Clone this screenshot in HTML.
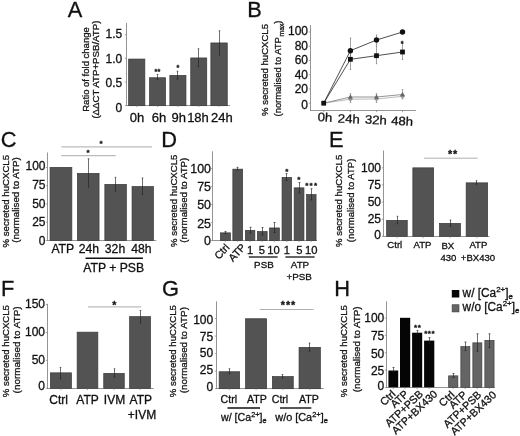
<!DOCTYPE html>
<html><head><meta charset="utf-8"><title>Figure</title>
<style>
html,body{margin:0;padding:0;background:#fff;}
svg{display:block;font-family:"Liberation Sans",sans-serif;filter:blur(0.28px);}
text{stroke:#111;stroke-width:0.3px;}
</style></head><body>
<svg width="520" height="436" viewBox="0 0 520 436">
<rect width="520" height="436" fill="#ffffff"/>
<text x="67.7" y="16.5" font-size="21.8" fill="#111">A</text>
<text x="247.2" y="16.5" font-size="21.8" fill="#111">B</text>
<text x="0.7" y="146.6" font-size="21.8" fill="#111">C</text>
<text x="161.2" y="146.7" font-size="21.8" fill="#111">D</text>
<text x="329" y="146.8" font-size="21.8" fill="#111">E</text>
<text x="0.95" y="295.8" font-size="21.8" fill="#111">F</text>
<text x="162" y="296.2" font-size="21.8" fill="#111">G</text>
<text x="334.3" y="296" font-size="21.8" fill="#111">H</text>
<line x1="126.5" y1="22.8" x2="126.5" y2="105.9" stroke="#828282" stroke-width="0.85"/>
<line x1="126.1" y1="105.5" x2="230" y2="105.5" stroke="#828282" stroke-width="0.85"/>
<line x1="124.8" y1="34.7" x2="126.5" y2="34.7" stroke="#828282" stroke-width="0.7"/>
<text x="122.3" y="38.4" font-size="12" text-anchor="end" fill="#111">1.5</text>
<line x1="124.8" y1="58.4" x2="126.5" y2="58.4" stroke="#828282" stroke-width="0.7"/>
<text x="122.3" y="63.3" font-size="12" text-anchor="end" fill="#111">1.0</text>
<line x1="124.8" y1="82" x2="126.5" y2="82" stroke="#828282" stroke-width="0.7"/>
<text x="122.3" y="86.7" font-size="12" text-anchor="end" fill="#111">0.5</text>
<line x1="124.8" y1="105.6" x2="126.5" y2="105.6" stroke="#828282" stroke-width="0.7"/>
<text x="122.3" y="112.0" font-size="12" text-anchor="end" fill="#111">0</text>
<rect x="128.65" y="59.05" width="16.2" height="46.65" fill="#535353" stroke="#383838" stroke-width="0.7"/>
<rect x="149.55" y="77.75" width="16.0" height="27.95" fill="#535353" stroke="#383838" stroke-width="0.7"/>
<rect x="169.85" y="75.35" width="16.1" height="30.35" fill="#535353" stroke="#383838" stroke-width="0.7"/>
<rect x="190.75" y="57.95" width="16.0" height="47.75" fill="#535353" stroke="#383838" stroke-width="0.7"/>
<rect x="210.85" y="42.95" width="16.4" height="62.75" fill="#535353" stroke="#383838" stroke-width="0.7"/>
<line x1="136.8" y1="105.5" x2="136.8" y2="107.1" stroke="#828282" stroke-width="0.7"/>
<line x1="157.6" y1="105.5" x2="157.6" y2="107.1" stroke="#828282" stroke-width="0.7"/>
<line x1="177.9" y1="105.5" x2="177.9" y2="107.1" stroke="#828282" stroke-width="0.7"/>
<line x1="198.8" y1="105.5" x2="198.8" y2="107.1" stroke="#828282" stroke-width="0.7"/>
<line x1="219.1" y1="105.5" x2="219.1" y2="107.1" stroke="#828282" stroke-width="0.7"/>
<line x1="157.5" y1="74.5" x2="157.5" y2="79.6" stroke="#202020" stroke-width="0.65"/>
<line x1="156.7" y1="74.5" x2="158.3" y2="74.5" stroke="#202020" stroke-width="0.65"/>
<line x1="156.7" y1="79.6" x2="158.3" y2="79.6" stroke="#202020" stroke-width="0.65"/>
<line x1="177.5" y1="71.2" x2="177.5" y2="79.2" stroke="#202020" stroke-width="0.65"/>
<line x1="176.7" y1="71.2" x2="178.3" y2="71.2" stroke="#202020" stroke-width="0.65"/>
<line x1="176.7" y1="79.2" x2="178.3" y2="79.2" stroke="#202020" stroke-width="0.65"/>
<line x1="198.5" y1="48.8" x2="198.5" y2="66.8" stroke="#202020" stroke-width="0.65"/>
<line x1="197.7" y1="48.8" x2="199.3" y2="48.8" stroke="#202020" stroke-width="0.65"/>
<line x1="197.7" y1="66.8" x2="199.3" y2="66.8" stroke="#202020" stroke-width="0.65"/>
<line x1="219.5" y1="30.8" x2="219.5" y2="55" stroke="#202020" stroke-width="0.65"/>
<line x1="218.7" y1="30.8" x2="220.3" y2="30.8" stroke="#202020" stroke-width="0.65"/>
<line x1="218.7" y1="55" x2="220.3" y2="55" stroke="#202020" stroke-width="0.65"/>
<text x="157.5" y="74.0" font-size="7.2" text-anchor="middle" fill="#111" font-weight="bold" stroke-width="0.1" letter-spacing="0.3">**</text>
<text x="178.0" y="69.5" font-size="7.2" text-anchor="middle" fill="#111" font-weight="bold" stroke-width="0.1">*</text>
<text x="136.9" y="122.4" font-size="13" text-anchor="middle" fill="#111">0h</text>
<text x="159.1" y="122.4" font-size="13" text-anchor="middle" fill="#111">6h</text>
<text x="178.8" y="122.4" font-size="13" text-anchor="middle" fill="#111">9h</text>
<text x="198" y="122.4" font-size="13" text-anchor="middle" fill="#111">18h</text>
<text x="221.8" y="122.4" font-size="13" text-anchor="middle" fill="#111">24h</text>
<text x="88.6" y="69.5" font-size="9.7" text-anchor="middle" textLength="84.5" lengthAdjust="spacingAndGlyphs" transform="rotate(-90 88.6 69.5)" fill="#222">Ratio of fold change</text>
<text x="99.1" y="69.6" font-size="9.7" text-anchor="middle" textLength="98" lengthAdjust="spacingAndGlyphs" transform="rotate(-90 99.1 69.6)" fill="#222">(ΔΔCT ATP+PSB/ATP)</text>
<line x1="310.5" y1="25" x2="310.5" y2="110.9" stroke="#828282" stroke-width="0.85"/>
<line x1="310.1" y1="110.5" x2="416" y2="110.5" stroke="#828282" stroke-width="0.85"/>
<line x1="308.8" y1="32" x2="310.5" y2="32" stroke="#828282" stroke-width="0.7"/>
<text x="308" y="34.8" font-size="12" text-anchor="end" fill="#111">100</text>
<line x1="308.8" y1="46.25" x2="310.5" y2="46.25" stroke="#828282" stroke-width="0.7"/>
<text x="308" y="49.7" font-size="12" text-anchor="end" fill="#111">80</text>
<line x1="308.8" y1="60.5" x2="310.5" y2="60.5" stroke="#828282" stroke-width="0.7"/>
<text x="308" y="64.2" font-size="12" text-anchor="end" fill="#111">60</text>
<line x1="308.8" y1="74.75" x2="310.5" y2="74.75" stroke="#828282" stroke-width="0.7"/>
<text x="308" y="79.05" font-size="12" text-anchor="end" fill="#111">40</text>
<line x1="308.8" y1="89" x2="310.5" y2="89" stroke="#828282" stroke-width="0.7"/>
<text x="308" y="93.3" font-size="12" text-anchor="end" fill="#111">20</text>
<line x1="308.8" y1="103.2" x2="310.5" y2="103.2" stroke="#828282" stroke-width="0.7"/>
<text x="308" y="108.9" font-size="12" text-anchor="end" fill="#111">0</text>
<line x1="323.7" y1="110.5" x2="323.7" y2="112.1" stroke="#828282" stroke-width="0.7"/>
<line x1="350.4" y1="110.5" x2="350.4" y2="112.1" stroke="#828282" stroke-width="0.7"/>
<line x1="376.5" y1="110.5" x2="376.5" y2="112.1" stroke="#828282" stroke-width="0.7"/>
<line x1="402.5" y1="110.5" x2="402.5" y2="112.1" stroke="#828282" stroke-width="0.7"/>
<polyline fill="none" stroke="#a8a8a8" stroke-width="0.8" points="323.7,103.2 350.4,99.2 376.5,99 402.5,96.3"/>
<polyline fill="none" stroke="#777" stroke-width="0.8" points="323.7,103.2 350.4,97 376.5,97 402.5,94.5"/>
<polyline fill="none" stroke="#222" stroke-width="0.8" points="323.7,103.2 350.4,59.3 376.5,55.7 402.5,52"/>
<polyline fill="none" stroke="#222" stroke-width="0.8" points="323.7,103.2 350.4,50.7 376.5,40 402.5,32"/>
<line x1="350.5" y1="38" x2="350.5" y2="56" stroke="#555" stroke-width="0.55"/>
<line x1="349.8" y1="38" x2="351.2" y2="38" stroke="#555" stroke-width="0.55"/>
<line x1="349.8" y1="56" x2="351.2" y2="56" stroke="#555" stroke-width="0.55"/>
<line x1="350.5" y1="52" x2="350.5" y2="69.5" stroke="#555" stroke-width="0.55"/>
<line x1="349.8" y1="52" x2="351.2" y2="52" stroke="#555" stroke-width="0.55"/>
<line x1="349.8" y1="69.5" x2="351.2" y2="69.5" stroke="#555" stroke-width="0.55"/>
<line x1="376.5" y1="35" x2="376.5" y2="45" stroke="#555" stroke-width="0.55"/>
<line x1="375.8" y1="35" x2="377.2" y2="35" stroke="#555" stroke-width="0.55"/>
<line x1="375.8" y1="45" x2="377.2" y2="45" stroke="#555" stroke-width="0.55"/>
<line x1="376.5" y1="46" x2="376.5" y2="63.7" stroke="#555" stroke-width="0.55"/>
<line x1="375.8" y1="46" x2="377.2" y2="46" stroke="#555" stroke-width="0.55"/>
<line x1="375.8" y1="63.7" x2="377.2" y2="63.7" stroke="#555" stroke-width="0.55"/>
<line x1="402.5" y1="43.5" x2="402.5" y2="59.5" stroke="#555" stroke-width="0.55"/>
<line x1="401.8" y1="43.5" x2="403.2" y2="43.5" stroke="#555" stroke-width="0.55"/>
<line x1="401.8" y1="59.5" x2="403.2" y2="59.5" stroke="#555" stroke-width="0.55"/>
<line x1="350.5" y1="93.7" x2="350.5" y2="102.5" stroke="#707070" stroke-width="0.6"/>
<line x1="349.7" y1="93.7" x2="351.3" y2="93.7" stroke="#707070" stroke-width="0.6"/>
<line x1="349.7" y1="102.5" x2="351.3" y2="102.5" stroke="#707070" stroke-width="0.6"/>
<line x1="376.5" y1="93.7" x2="376.5" y2="102.5" stroke="#707070" stroke-width="0.6"/>
<line x1="375.7" y1="93.7" x2="377.3" y2="93.7" stroke="#707070" stroke-width="0.6"/>
<line x1="375.7" y1="102.5" x2="377.3" y2="102.5" stroke="#707070" stroke-width="0.6"/>
<line x1="402.5" y1="89.5" x2="402.5" y2="99" stroke="#707070" stroke-width="0.6"/>
<line x1="401.7" y1="89.5" x2="403.3" y2="89.5" stroke="#707070" stroke-width="0.6"/>
<line x1="401.7" y1="99" x2="403.3" y2="99" stroke="#707070" stroke-width="0.6"/>
<path d="M350.4 96.60000000000001L352.79999999999995 99.2L350.4 101.8L348.0 99.2Z" fill="#9a9a9a"/>
<path d="M376.5 96.4L378.9 99L376.5 101.6L374.1 99Z" fill="#9a9a9a"/>
<path d="M402.5 93.7L404.9 96.3L402.5 98.89999999999999L400.1 96.3Z" fill="#9a9a9a"/>
<path d="M350.4 94.2L352.9 98.8L347.9 98.8Z" fill="#666"/>
<path d="M376.5 94.2L379.0 98.8L374.0 98.8Z" fill="#666"/>
<path d="M402.5 91.7L405.0 96.3L400.0 96.3Z" fill="#666"/>
<rect x="321.3" y="100.8" width="4.8" height="4.8" fill="#111"/>
<rect x="348.0" y="56.9" width="4.8" height="4.8" fill="#111"/>
<rect x="374.1" y="53.300000000000004" width="4.8" height="4.8" fill="#111"/>
<rect x="400.1" y="49.6" width="4.8" height="4.8" fill="#111"/>
<circle cx="350.4" cy="50.7" r="2.7" fill="#111"/>
<circle cx="376.5" cy="40" r="2.7" fill="#111"/>
<circle cx="402.5" cy="32" r="2.7" fill="#111"/>
<text x="402.1" y="45.9" font-size="7.2" text-anchor="middle" fill="#111" font-weight="bold" stroke-width="0.1">*</text>
<text x="324.7" y="121.5" font-size="12.2" text-anchor="middle" textLength="14.6" lengthAdjust="spacingAndGlyphs" transform="rotate(3 324.7 121.5)" fill="#111">0h</text>
<text x="348.6" y="123" font-size="12.2" text-anchor="middle" textLength="22" lengthAdjust="spacingAndGlyphs" transform="rotate(3 348.6 123)" fill="#111">24h</text>
<text x="375.7" y="124.1" font-size="12.2" text-anchor="middle" textLength="22" lengthAdjust="spacingAndGlyphs" transform="rotate(3 375.7 124.1)" fill="#111">32h</text>
<text x="401.9" y="125.3" font-size="12.2" text-anchor="middle" textLength="22" lengthAdjust="spacingAndGlyphs" transform="rotate(3 401.9 125.3)" fill="#111">48h</text>
<text x="268.2" y="70" font-size="9.7" text-anchor="middle" textLength="92" lengthAdjust="spacingAndGlyphs" transform="rotate(-90 268.2 70)" fill="#222">% secreted huCXCL5</text>
<text x="280.5" y="68.5" font-size="9.7" text-anchor="middle" textLength="96" lengthAdjust="spacingAndGlyphs" transform="rotate(-90 280.5 68.5)" fill="#222">(normalised to ATP<tspan font-size="7" dx="0.6" dy="3.8">max</tspan><tspan dy="-3.8">)</tspan></text>
<line x1="47.5" y1="152.5" x2="47.5" y2="240.9" stroke="#828282" stroke-width="0.85"/>
<line x1="47.1" y1="240.5" x2="156.3" y2="240.5" stroke="#828282" stroke-width="0.85"/>
<line x1="45.8" y1="167.5" x2="47.5" y2="167.5" stroke="#828282" stroke-width="0.7"/>
<text x="45.5" y="170.0" font-size="12" text-anchor="end" fill="#111">100</text>
<line x1="45.8" y1="185.7" x2="47.5" y2="185.7" stroke="#828282" stroke-width="0.7"/>
<text x="45.5" y="189.2" font-size="12" text-anchor="end" fill="#111">75</text>
<line x1="45.8" y1="204" x2="47.5" y2="204" stroke="#828282" stroke-width="0.7"/>
<text x="45.5" y="207.7" font-size="12" text-anchor="end" fill="#111">50</text>
<line x1="45.8" y1="222.2" x2="47.5" y2="222.2" stroke="#828282" stroke-width="0.7"/>
<text x="45.5" y="226.2" font-size="12" text-anchor="end" fill="#111">25</text>
<line x1="45.8" y1="240.5" x2="47.5" y2="240.5" stroke="#828282" stroke-width="0.7"/>
<text x="45.5" y="244.7" font-size="12" text-anchor="end" fill="#111">0</text>
<rect x="50.05" y="167.35" width="21.8" height="73.15" fill="#535353" stroke="#383838" stroke-width="0.7"/>
<rect x="77.35" y="173.35" width="21.7" height="67.15" fill="#535353" stroke="#383838" stroke-width="0.7"/>
<rect x="104.85" y="184.35" width="21.5" height="56.15" fill="#535353" stroke="#383838" stroke-width="0.7"/>
<rect x="132.05" y="186.55" width="21.4" height="53.95" fill="#535353" stroke="#383838" stroke-width="0.7"/>
<line x1="61.0" y1="240.5" x2="61.0" y2="242.1" stroke="#828282" stroke-width="0.7"/>
<line x1="88.2" y1="240.5" x2="88.2" y2="242.1" stroke="#828282" stroke-width="0.7"/>
<line x1="115.6" y1="240.5" x2="115.6" y2="242.1" stroke="#828282" stroke-width="0.7"/>
<line x1="142.8" y1="240.5" x2="142.8" y2="242.1" stroke="#828282" stroke-width="0.7"/>
<line x1="88.5" y1="158.8" x2="88.5" y2="187" stroke="#202020" stroke-width="0.65"/>
<line x1="87.7" y1="158.8" x2="89.3" y2="158.8" stroke="#202020" stroke-width="0.65"/>
<line x1="87.7" y1="187" x2="89.3" y2="187" stroke="#202020" stroke-width="0.65"/>
<line x1="115.5" y1="177.3" x2="115.5" y2="191" stroke="#202020" stroke-width="0.65"/>
<line x1="114.7" y1="177.3" x2="116.3" y2="177.3" stroke="#202020" stroke-width="0.65"/>
<line x1="114.7" y1="191" x2="116.3" y2="191" stroke="#202020" stroke-width="0.65"/>
<line x1="142.5" y1="178" x2="142.5" y2="194.5" stroke="#202020" stroke-width="0.65"/>
<line x1="141.7" y1="178" x2="143.3" y2="178" stroke="#202020" stroke-width="0.65"/>
<line x1="141.7" y1="194.5" x2="143.3" y2="194.5" stroke="#202020" stroke-width="0.65"/>
<line x1="61.3" y1="146.9" x2="152" y2="146.9" stroke="#bcbcbc" stroke-width="1.3"/>
<line x1="61.3" y1="155.6" x2="115.8" y2="155.6" stroke="#bcbcbc" stroke-width="1.3"/>
<text x="101.1" y="146.1" font-size="8" text-anchor="middle" fill="#111" font-weight="bold" stroke-width="0.1">*</text>
<text x="88.0" y="155.2" font-size="8" text-anchor="middle" fill="#111" font-weight="bold" stroke-width="0.1">*</text>
<text x="62.8" y="253.3" font-size="12.2" text-anchor="middle" fill="#111">ATP</text>
<text x="88.8" y="253.3" font-size="12.2" text-anchor="middle" fill="#111">24h</text>
<text x="115" y="253.3" font-size="12.2" text-anchor="middle" fill="#111">32h</text>
<text x="141.3" y="253.3" font-size="12.2" text-anchor="middle" fill="#111">48h</text>
<line x1="85.5" y1="258.3" x2="143" y2="258.3" stroke="#111" stroke-width="1.4"/>
<text x="113.7" y="272" font-size="12.2" text-anchor="middle" fill="#111">ATP + PSB</text>
<text x="8.7" y="201.2" font-size="9.7" text-anchor="middle" textLength="92.5" lengthAdjust="spacingAndGlyphs" transform="rotate(-90 8.7 201.2)" fill="#222">% secreted huCXCL5</text>
<text x="18.8" y="200" font-size="9.7" text-anchor="middle" textLength="85.5" lengthAdjust="spacingAndGlyphs" transform="rotate(-90 18.8 200)" fill="#222">(normalised to ATP)</text>
<line x1="212.5" y1="151.3" x2="212.5" y2="240.9" stroke="#828282" stroke-width="0.85"/>
<line x1="212.1" y1="240.5" x2="317" y2="240.5" stroke="#828282" stroke-width="0.85"/>
<line x1="210.8" y1="168.6" x2="212.5" y2="168.6" stroke="#828282" stroke-width="0.7"/>
<text x="211" y="173.04" font-size="12.4" text-anchor="end" fill="#111">100</text>
<line x1="210.8" y1="186.6" x2="212.5" y2="186.6" stroke="#828282" stroke-width="0.7"/>
<text x="211" y="191.04" font-size="12.4" text-anchor="end" fill="#111">75</text>
<line x1="210.8" y1="204.5" x2="212.5" y2="204.5" stroke="#828282" stroke-width="0.7"/>
<text x="211" y="208.94" font-size="12.4" text-anchor="end" fill="#111">50</text>
<line x1="210.8" y1="222.5" x2="212.5" y2="222.5" stroke="#828282" stroke-width="0.7"/>
<text x="211" y="227.54" font-size="12.4" text-anchor="end" fill="#111">25</text>
<line x1="210.8" y1="240.5" x2="212.5" y2="240.5" stroke="#828282" stroke-width="0.7"/>
<text x="211" y="244.94" font-size="12.4" text-anchor="end" fill="#111">0</text>
<rect x="220.35" y="232.85" width="10.0" height="7.65" fill="#535353" stroke="#383838" stroke-width="0.7"/>
<rect x="232.85" y="169.15" width="9.8" height="71.35" fill="#535353" stroke="#383838" stroke-width="0.7"/>
<rect x="245.35" y="230.35" width="9.5" height="10.15" fill="#535353" stroke="#383838" stroke-width="0.7"/>
<rect x="257.35" y="231.55" width="9.8" height="8.95" fill="#535353" stroke="#383838" stroke-width="0.7"/>
<rect x="269.55" y="227.95" width="9.8" height="12.55" fill="#535353" stroke="#383838" stroke-width="0.7"/>
<rect x="282.05" y="177.35" width="9.6" height="63.15" fill="#535353" stroke="#383838" stroke-width="0.7"/>
<rect x="294.15" y="187.85" width="9.8" height="52.65" fill="#535353" stroke="#383838" stroke-width="0.7"/>
<rect x="306.55" y="194.55" width="9.5" height="45.95" fill="#535353" stroke="#383838" stroke-width="0.7"/>
<line x1="225.3" y1="240.5" x2="225.3" y2="242.1" stroke="#828282" stroke-width="0.7"/>
<line x1="237.8" y1="240.5" x2="237.8" y2="242.1" stroke="#828282" stroke-width="0.7"/>
<line x1="250.1" y1="240.5" x2="250.1" y2="242.1" stroke="#828282" stroke-width="0.7"/>
<line x1="262.2" y1="240.5" x2="262.2" y2="242.1" stroke="#828282" stroke-width="0.7"/>
<line x1="274.4" y1="240.5" x2="274.4" y2="242.1" stroke="#828282" stroke-width="0.7"/>
<line x1="286.9" y1="240.5" x2="286.9" y2="242.1" stroke="#828282" stroke-width="0.7"/>
<line x1="299.1" y1="240.5" x2="299.1" y2="242.1" stroke="#828282" stroke-width="0.7"/>
<line x1="311.3" y1="240.5" x2="311.3" y2="242.1" stroke="#828282" stroke-width="0.7"/>
<line x1="225.5" y1="231.5" x2="225.5" y2="233.5" stroke="#202020" stroke-width="0.65"/>
<line x1="224.5" y1="231.5" x2="226.5" y2="231.5" stroke="#202020" stroke-width="0.65"/>
<line x1="224.5" y1="233.5" x2="226.5" y2="233.5" stroke="#202020" stroke-width="0.65"/>
<line x1="237.5" y1="167.3" x2="237.5" y2="170.2" stroke="#202020" stroke-width="0.65"/>
<line x1="236.5" y1="167.3" x2="238.5" y2="167.3" stroke="#202020" stroke-width="0.65"/>
<line x1="236.5" y1="170.2" x2="238.5" y2="170.2" stroke="#202020" stroke-width="0.65"/>
<line x1="250.5" y1="227.3" x2="250.5" y2="233" stroke="#202020" stroke-width="0.65"/>
<line x1="249.5" y1="227.3" x2="251.5" y2="227.3" stroke="#202020" stroke-width="0.65"/>
<line x1="249.5" y1="233" x2="251.5" y2="233" stroke="#202020" stroke-width="0.65"/>
<line x1="262.5" y1="227.5" x2="262.5" y2="235" stroke="#202020" stroke-width="0.65"/>
<line x1="261.5" y1="227.5" x2="263.5" y2="227.5" stroke="#202020" stroke-width="0.65"/>
<line x1="261.5" y1="235" x2="263.5" y2="235" stroke="#202020" stroke-width="0.65"/>
<line x1="274.5" y1="222.5" x2="274.5" y2="232.5" stroke="#202020" stroke-width="0.65"/>
<line x1="273.5" y1="222.5" x2="275.5" y2="222.5" stroke="#202020" stroke-width="0.65"/>
<line x1="273.5" y1="232.5" x2="275.5" y2="232.5" stroke="#202020" stroke-width="0.65"/>
<line x1="286.5" y1="173.6" x2="286.5" y2="180.5" stroke="#202020" stroke-width="0.65"/>
<line x1="285.5" y1="173.6" x2="287.5" y2="173.6" stroke="#202020" stroke-width="0.65"/>
<line x1="285.5" y1="180.5" x2="287.5" y2="180.5" stroke="#202020" stroke-width="0.65"/>
<line x1="299.5" y1="182.5" x2="299.5" y2="193" stroke="#202020" stroke-width="0.65"/>
<line x1="298.5" y1="182.5" x2="300.5" y2="182.5" stroke="#202020" stroke-width="0.65"/>
<line x1="298.5" y1="193" x2="300.5" y2="193" stroke="#202020" stroke-width="0.65"/>
<line x1="311.5" y1="188.7" x2="311.5" y2="200" stroke="#202020" stroke-width="0.65"/>
<line x1="310.5" y1="188.7" x2="312.5" y2="188.7" stroke="#202020" stroke-width="0.65"/>
<line x1="310.5" y1="200" x2="312.5" y2="200" stroke="#202020" stroke-width="0.65"/>
<text x="286.7" y="173.9" font-size="8" text-anchor="middle" fill="#111" font-weight="bold" stroke-width="0.1">*</text>
<text x="298.8" y="181.6" font-size="8" text-anchor="middle" fill="#111" font-weight="bold" stroke-width="0.1">*</text>
<text x="311.72" y="188.0" font-size="8" text-anchor="middle" fill="#111" font-weight="bold" stroke-width="0.1" letter-spacing="1.24">***</text>
<text x="230.1" y="248.1" font-size="10.5" text-anchor="end" transform="rotate(-47 230.1 248.1)" fill="#111">Ctrl</text>
<text x="246.3" y="247.8" font-size="10.5" text-anchor="end" transform="rotate(-47 246.3 247.8)" fill="#111">ATP</text>
<text x="250.2" y="253.8" font-size="11.2" text-anchor="middle" fill="#111">1</text>
<text x="261.8" y="253.8" font-size="11.2" text-anchor="middle" fill="#111">5</text>
<text x="273.6" y="253.8" font-size="11.2" text-anchor="middle" fill="#111">10</text>
<text x="286.8" y="253.8" font-size="11.2" text-anchor="middle" fill="#111">1</text>
<text x="299.3" y="253.8" font-size="11.2" text-anchor="middle" fill="#111">5</text>
<text x="311.3" y="253.8" font-size="11.2" text-anchor="middle" fill="#111">10</text>
<line x1="248.8" y1="257" x2="277.6" y2="257" stroke="#111" stroke-width="1.3"/>
<line x1="285.4" y1="257" x2="314.6" y2="257" stroke="#111" stroke-width="1.3"/>
<text x="263.9" y="267.7" font-size="9.8" text-anchor="middle" fill="#111">PSB</text>
<text x="300" y="267.7" font-size="9.8" text-anchor="middle" fill="#111">ATP</text>
<text x="299.2" y="279.5" font-size="9.8" text-anchor="middle" fill="#111">+PSB</text>
<text x="176.9" y="200.8" font-size="9.7" text-anchor="middle" textLength="92.3" lengthAdjust="spacingAndGlyphs" transform="rotate(-90 176.9 200.8)" fill="#222">% secreted huCXCL5</text>
<text x="187.5" y="200.2" font-size="9.7" text-anchor="middle" textLength="85" lengthAdjust="spacingAndGlyphs" transform="rotate(-90 187.5 200.2)" fill="#222">(normalised to ATP)</text>
<line x1="383.5" y1="150.5" x2="383.5" y2="236.9" stroke="#828282" stroke-width="0.85"/>
<line x1="383.1" y1="236.5" x2="489.5" y2="236.5" stroke="#828282" stroke-width="0.85"/>
<line x1="381.8" y1="167.8" x2="383.5" y2="167.8" stroke="#828282" stroke-width="0.7"/>
<text x="381" y="171.5" font-size="12" text-anchor="end" fill="#111">100</text>
<line x1="381.8" y1="184.9" x2="383.5" y2="184.9" stroke="#828282" stroke-width="0.7"/>
<text x="381" y="189.2" font-size="12" text-anchor="end" fill="#111">75</text>
<line x1="381.8" y1="202" x2="383.5" y2="202" stroke="#828282" stroke-width="0.7"/>
<text x="381" y="206.3" font-size="12" text-anchor="end" fill="#111">50</text>
<line x1="381.8" y1="219.2" x2="383.5" y2="219.2" stroke="#828282" stroke-width="0.7"/>
<text x="381" y="223.1" font-size="12" text-anchor="end" fill="#111">25</text>
<line x1="381.8" y1="236.3" x2="383.5" y2="236.3" stroke="#828282" stroke-width="0.7"/>
<text x="381" y="239.3" font-size="12" text-anchor="end" fill="#111">0</text>
<rect x="386.65" y="220.35" width="20.6" height="15.95" fill="#535353" stroke="#383838" stroke-width="0.7"/>
<rect x="412.85" y="167.85" width="20.8" height="68.45" fill="#535353" stroke="#383838" stroke-width="0.7"/>
<rect x="439.55" y="223.35" width="20.9" height="12.95" fill="#535353" stroke="#383838" stroke-width="0.7"/>
<rect x="466.15" y="182.85" width="21.5" height="53.45" fill="#535353" stroke="#383838" stroke-width="0.7"/>
<line x1="397.0" y1="236.5" x2="397.0" y2="238.1" stroke="#828282" stroke-width="0.7"/>
<line x1="423.2" y1="236.5" x2="423.2" y2="238.1" stroke="#828282" stroke-width="0.7"/>
<line x1="450.0" y1="236.5" x2="450.0" y2="238.1" stroke="#828282" stroke-width="0.7"/>
<line x1="476.9" y1="236.5" x2="476.9" y2="238.1" stroke="#828282" stroke-width="0.7"/>
<line x1="397.5" y1="216.3" x2="397.5" y2="223.8" stroke="#202020" stroke-width="0.65"/>
<line x1="396.7" y1="216.3" x2="398.3" y2="216.3" stroke="#202020" stroke-width="0.65"/>
<line x1="396.7" y1="223.8" x2="398.3" y2="223.8" stroke="#202020" stroke-width="0.65"/>
<line x1="450.5" y1="220" x2="450.5" y2="226.3" stroke="#202020" stroke-width="0.65"/>
<line x1="449.7" y1="220" x2="451.3" y2="220" stroke="#202020" stroke-width="0.65"/>
<line x1="449.7" y1="226.3" x2="451.3" y2="226.3" stroke="#202020" stroke-width="0.65"/>
<line x1="476.5" y1="180.7" x2="476.5" y2="184.3" stroke="#202020" stroke-width="0.65"/>
<line x1="475.7" y1="180.7" x2="477.3" y2="180.7" stroke="#202020" stroke-width="0.65"/>
<line x1="475.7" y1="184.3" x2="477.3" y2="184.3" stroke="#202020" stroke-width="0.65"/>
<line x1="424" y1="158.2" x2="477.6" y2="158.2" stroke="#9c9c9c" stroke-width="0.8"/>
<text x="453.1" y="157.5" font-size="10.8" text-anchor="middle" fill="#111" font-weight="bold" stroke-width="0.1" letter-spacing="1.0">**</text>
<text x="394.8" y="248.3" font-size="9.6" text-anchor="middle" fill="#111">Ctrl</text>
<text x="422.5" y="248.3" font-size="9.6" text-anchor="middle" fill="#111">ATP</text>
<text x="447.8" y="249.3" font-size="9.6" text-anchor="middle" fill="#111">BX</text>
<text x="478.4" y="248.3" font-size="9.6" text-anchor="middle" fill="#111">ATP</text>
<text x="448.4" y="261" font-size="9.6" text-anchor="middle" fill="#111">430</text>
<text x="478" y="260.5" font-size="9.6" text-anchor="middle" fill="#111">+BX430</text>
<text x="342.5" y="200.9" font-size="9.7" text-anchor="middle" textLength="92.3" lengthAdjust="spacingAndGlyphs" transform="rotate(-90 342.5 200.9)" fill="#222">% secreted huCXCL5</text>
<text x="354" y="200.4" font-size="9.7" text-anchor="middle" textLength="83.5" lengthAdjust="spacingAndGlyphs" transform="rotate(-90 354 200.4)" fill="#222">(normalised to ATP)</text>
<line x1="47.5" y1="303.8" x2="47.5" y2="388.9" stroke="#828282" stroke-width="0.85"/>
<line x1="47.1" y1="388.5" x2="153.8" y2="388.5" stroke="#828282" stroke-width="0.85"/>
<line x1="45.8" y1="304.6" x2="47.5" y2="304.6" stroke="#828282" stroke-width="0.7"/>
<text x="45" y="308.0" font-size="12" text-anchor="end" fill="#111">150</text>
<line x1="45.8" y1="332.5" x2="47.5" y2="332.5" stroke="#828282" stroke-width="0.7"/>
<text x="45" y="335.7" font-size="12" text-anchor="end" fill="#111">100</text>
<line x1="45.8" y1="360.4" x2="47.5" y2="360.4" stroke="#828282" stroke-width="0.7"/>
<text x="45" y="364.0" font-size="12" text-anchor="end" fill="#111">50</text>
<line x1="45.8" y1="388.3" x2="47.5" y2="388.3" stroke="#828282" stroke-width="0.7"/>
<text x="45" y="390.4" font-size="12" text-anchor="end" fill="#111">0</text>
<rect x="50.35" y="372.85" width="21.1" height="15.45" fill="#535353" stroke="#383838" stroke-width="0.7"/>
<rect x="77.15" y="332.15" width="20.7" height="56.15" fill="#535353" stroke="#383838" stroke-width="0.7"/>
<rect x="103.75" y="373.35" width="20.5" height="14.95" fill="#535353" stroke="#383838" stroke-width="0.7"/>
<rect x="129.65" y="316.65" width="20.8" height="71.65" fill="#535353" stroke="#383838" stroke-width="0.7"/>
<line x1="60.9" y1="388.5" x2="60.9" y2="390.1" stroke="#828282" stroke-width="0.7"/>
<line x1="87.5" y1="388.5" x2="87.5" y2="390.1" stroke="#828282" stroke-width="0.7"/>
<line x1="114.0" y1="388.5" x2="114.0" y2="390.1" stroke="#828282" stroke-width="0.7"/>
<line x1="140.1" y1="388.5" x2="140.1" y2="390.1" stroke="#828282" stroke-width="0.7"/>
<line x1="60.5" y1="367.5" x2="60.5" y2="378.8" stroke="#202020" stroke-width="0.65"/>
<line x1="59.7" y1="367.5" x2="61.3" y2="367.5" stroke="#202020" stroke-width="0.65"/>
<line x1="59.7" y1="378.8" x2="61.3" y2="378.8" stroke="#202020" stroke-width="0.65"/>
<line x1="114.5" y1="368.8" x2="114.5" y2="377" stroke="#202020" stroke-width="0.65"/>
<line x1="113.7" y1="368.8" x2="115.3" y2="368.8" stroke="#202020" stroke-width="0.65"/>
<line x1="113.7" y1="377" x2="115.3" y2="377" stroke="#202020" stroke-width="0.65"/>
<line x1="140.5" y1="310.5" x2="140.5" y2="323" stroke="#202020" stroke-width="0.65"/>
<line x1="139.7" y1="310.5" x2="141.3" y2="310.5" stroke="#202020" stroke-width="0.65"/>
<line x1="139.7" y1="323" x2="141.3" y2="323" stroke="#202020" stroke-width="0.65"/>
<line x1="88" y1="306.8" x2="141.2" y2="306.8" stroke="#bcbcbc" stroke-width="1.3"/>
<text x="114.3" y="308.75" font-size="10.5" text-anchor="middle" fill="#111" font-weight="bold" stroke-width="0.1">*</text>
<text x="58.6" y="404.2" font-size="12" text-anchor="middle" fill="#111">Ctrl</text>
<text x="87.6" y="404.2" font-size="12" text-anchor="middle" fill="#111">ATP</text>
<text x="114.5" y="404.2" font-size="12" text-anchor="middle" fill="#111">IVM</text>
<text x="140.8" y="404.2" font-size="12" text-anchor="middle" fill="#111">ATP</text>
<text x="142" y="418.8" font-size="12" text-anchor="middle" fill="#111">+IVM</text>
<text x="8.8" y="351.2" font-size="9.7" text-anchor="middle" textLength="92.1" lengthAdjust="spacingAndGlyphs" transform="rotate(-90 8.8 351.2)" fill="#222">% secreted huCXCL5</text>
<text x="19.6" y="349.9" font-size="9.7" text-anchor="middle" textLength="87" lengthAdjust="spacingAndGlyphs" transform="rotate(-90 19.6 349.9)" fill="#222">(normalised to ATP)</text>
<line x1="216.5" y1="301.3" x2="216.5" y2="388.9" stroke="#828282" stroke-width="0.85"/>
<line x1="216.1" y1="388.5" x2="323.8" y2="388.5" stroke="#828282" stroke-width="0.85"/>
<line x1="214.8" y1="318.6" x2="216.5" y2="318.6" stroke="#828282" stroke-width="0.7"/>
<text x="213.2" y="323.5" font-size="12" text-anchor="end" fill="#111">100</text>
<line x1="214.8" y1="336.1" x2="216.5" y2="336.1" stroke="#828282" stroke-width="0.7"/>
<text x="213.2" y="340.5" font-size="12" text-anchor="end" fill="#111">75</text>
<line x1="214.8" y1="353.7" x2="216.5" y2="353.7" stroke="#828282" stroke-width="0.7"/>
<text x="213.2" y="357.3" font-size="12" text-anchor="end" fill="#111">50</text>
<line x1="214.8" y1="371.2" x2="216.5" y2="371.2" stroke="#828282" stroke-width="0.7"/>
<text x="213.2" y="374.3" font-size="12" text-anchor="end" fill="#111">25</text>
<line x1="214.8" y1="388.6" x2="216.5" y2="388.6" stroke="#828282" stroke-width="0.7"/>
<text x="213.2" y="390.9" font-size="12" text-anchor="end" fill="#111">0</text>
<rect x="219.15" y="371.75" width="20.5" height="16.95" fill="#535353" stroke="#383838" stroke-width="0.7"/>
<rect x="245.55" y="318.75" width="21.1" height="69.95" fill="#535353" stroke="#383838" stroke-width="0.7"/>
<rect x="272.35" y="376.55" width="20.9" height="12.15" fill="#535353" stroke="#383838" stroke-width="0.7"/>
<rect x="299.05" y="347.35" width="21.3" height="41.35" fill="#535353" stroke="#383838" stroke-width="0.7"/>
<line x1="229.4" y1="388.5" x2="229.4" y2="390.1" stroke="#828282" stroke-width="0.7"/>
<line x1="256.1" y1="388.5" x2="256.1" y2="390.1" stroke="#828282" stroke-width="0.7"/>
<line x1="282.8" y1="388.5" x2="282.8" y2="390.1" stroke="#828282" stroke-width="0.7"/>
<line x1="309.7" y1="388.5" x2="309.7" y2="390.1" stroke="#828282" stroke-width="0.7"/>
<line x1="229.5" y1="368.7" x2="229.5" y2="373.8" stroke="#202020" stroke-width="0.65"/>
<line x1="228.7" y1="368.7" x2="230.3" y2="368.7" stroke="#202020" stroke-width="0.65"/>
<line x1="228.7" y1="373.8" x2="230.3" y2="373.8" stroke="#202020" stroke-width="0.65"/>
<line x1="282.5" y1="374.5" x2="282.5" y2="378.2" stroke="#202020" stroke-width="0.65"/>
<line x1="281.7" y1="374.5" x2="283.3" y2="374.5" stroke="#202020" stroke-width="0.65"/>
<line x1="281.7" y1="378.2" x2="283.3" y2="378.2" stroke="#202020" stroke-width="0.65"/>
<line x1="309.5" y1="343" x2="309.5" y2="351.2" stroke="#202020" stroke-width="0.65"/>
<line x1="308.7" y1="343" x2="310.3" y2="343" stroke="#202020" stroke-width="0.65"/>
<line x1="308.7" y1="351.2" x2="310.3" y2="351.2" stroke="#202020" stroke-width="0.65"/>
<line x1="259.8" y1="309.5" x2="313.5" y2="309.5" stroke="#9c9c9c" stroke-width="0.8"/>
<text x="288.45" y="309.3" font-size="10.8" text-anchor="middle" fill="#111" font-weight="bold" stroke-width="0.1" letter-spacing="0.9">***</text>
<text x="228.8" y="403" font-size="10.6" text-anchor="middle" fill="#111">Ctrl</text>
<text x="256.8" y="403" font-size="10.6" text-anchor="middle" fill="#111">ATP</text>
<text x="280" y="403" font-size="10.6" text-anchor="middle" fill="#111">Ctrl</text>
<text x="309" y="403" font-size="10.6" text-anchor="middle" fill="#111">ATP</text>
<line x1="227.5" y1="408" x2="260" y2="408" stroke="#111" stroke-width="1.4"/>
<line x1="280" y1="408" x2="311.3" y2="408" stroke="#111" stroke-width="1.4"/>
<text x="221" y="421.3" font-size="11" textLength="45.5" lengthAdjust="spacingAndGlyphs" fill="#111">w/ [Ca<tspan font-size="7.5" dy="-4.8">2+</tspan><tspan dy="4.8">]</tspan><tspan font-size="7.5" dy="1.9">e</tspan></text>
<text x="275.3" y="421.3" font-size="11" textLength="52.5" lengthAdjust="spacingAndGlyphs" fill="#111">w/o [Ca<tspan font-size="7.5" dy="-4.8">2+</tspan><tspan dy="4.8">]</tspan><tspan font-size="7.5" dy="1.9">e</tspan></text>
<text x="176.3" y="351.2" font-size="9.7" text-anchor="middle" textLength="92.1" lengthAdjust="spacingAndGlyphs" transform="rotate(-90 176.3 351.2)" fill="#222">% secreted huCXCL5</text>
<text x="187.2" y="350.2" font-size="9.7" text-anchor="middle" textLength="86.3" lengthAdjust="spacingAndGlyphs" transform="rotate(-90 187.2 350.2)" fill="#222">(normalised to ATP)</text>
<line x1="386.5" y1="301.3" x2="386.5" y2="387.9" stroke="#828282" stroke-width="0.85"/>
<line x1="386.1" y1="387.5" x2="495" y2="387.5" stroke="#828282" stroke-width="0.85"/>
<line x1="384.8" y1="318" x2="386.5" y2="318" stroke="#828282" stroke-width="0.7"/>
<text x="384.3" y="321.9" font-size="12" text-anchor="end" fill="#111">100</text>
<line x1="384.8" y1="335.4" x2="386.5" y2="335.4" stroke="#828282" stroke-width="0.7"/>
<text x="384.3" y="339.7" font-size="12" text-anchor="end" fill="#111">75</text>
<line x1="384.8" y1="352.8" x2="386.5" y2="352.8" stroke="#828282" stroke-width="0.7"/>
<text x="384.3" y="357.7" font-size="12" text-anchor="end" fill="#111">50</text>
<line x1="384.8" y1="370.1" x2="386.5" y2="370.1" stroke="#828282" stroke-width="0.7"/>
<text x="384.3" y="375.0" font-size="12" text-anchor="end" fill="#111">25</text>
<line x1="384.8" y1="387.3" x2="386.5" y2="387.3" stroke="#828282" stroke-width="0.7"/>
<text x="384.3" y="390.3" font-size="12" text-anchor="end" fill="#111">0</text>
<rect x="388.4" y="370.5" width="9.8" height="16.8" fill="#050505"/>
<rect x="400" y="317.8" width="10.2" height="69.5" fill="#050505"/>
<rect x="412.1" y="332.7" width="10.1" height="54.6" fill="#050505"/>
<rect x="424.1" y="340.6" width="10.2" height="46.7" fill="#050505"/>
<line x1="393.3" y1="387.5" x2="393.3" y2="389.1" stroke="#828282" stroke-width="0.7"/>
<line x1="405.1" y1="387.5" x2="405.1" y2="389.1" stroke="#828282" stroke-width="0.7"/>
<line x1="417.1" y1="387.5" x2="417.1" y2="389.1" stroke="#828282" stroke-width="0.7"/>
<line x1="429.2" y1="387.5" x2="429.2" y2="389.1" stroke="#828282" stroke-width="0.7"/>
<line x1="453.1" y1="387.5" x2="453.1" y2="389.1" stroke="#828282" stroke-width="0.7"/>
<line x1="465.2" y1="387.5" x2="465.2" y2="389.1" stroke="#828282" stroke-width="0.7"/>
<line x1="477.2" y1="387.5" x2="477.2" y2="389.1" stroke="#828282" stroke-width="0.7"/>
<line x1="489.4" y1="387.5" x2="489.4" y2="389.1" stroke="#828282" stroke-width="0.7"/>
<rect x="448.65" y="375.85" width="9.2" height="11.45" fill="#646464" stroke="#3e3e3e" stroke-width="0.7"/>
<rect x="460.85" y="346.65" width="9.0" height="40.65" fill="#646464" stroke="#3e3e3e" stroke-width="0.7"/>
<rect x="472.85" y="342.85" width="9.0" height="44.45" fill="#646464" stroke="#3e3e3e" stroke-width="0.7"/>
<rect x="484.85" y="340.35" width="9.2" height="46.95" fill="#646464" stroke="#3e3e3e" stroke-width="0.7"/>
<line x1="393.5" y1="367.5" x2="393.5" y2="372" stroke="#202020" stroke-width="0.65"/>
<line x1="392.5" y1="367.5" x2="394.5" y2="367.5" stroke="#202020" stroke-width="0.65"/>
<line x1="392.5" y1="372" x2="394.5" y2="372" stroke="#202020" stroke-width="0.65"/>
<line x1="417.5" y1="330.6" x2="417.5" y2="334" stroke="#202020" stroke-width="0.65"/>
<line x1="416.5" y1="330.6" x2="418.5" y2="330.6" stroke="#202020" stroke-width="0.65"/>
<line x1="416.5" y1="334" x2="418.5" y2="334" stroke="#202020" stroke-width="0.65"/>
<line x1="429.5" y1="337.6" x2="429.5" y2="343.8" stroke="#202020" stroke-width="0.65"/>
<line x1="428.5" y1="337.6" x2="430.5" y2="337.6" stroke="#202020" stroke-width="0.65"/>
<line x1="428.5" y1="343.8" x2="430.5" y2="343.8" stroke="#202020" stroke-width="0.65"/>
<line x1="453.5" y1="373.5" x2="453.5" y2="377.5" stroke="#202020" stroke-width="0.65"/>
<line x1="452.5" y1="373.5" x2="454.5" y2="373.5" stroke="#202020" stroke-width="0.65"/>
<line x1="452.5" y1="377.5" x2="454.5" y2="377.5" stroke="#202020" stroke-width="0.65"/>
<line x1="465.5" y1="342" x2="465.5" y2="350.5" stroke="#202020" stroke-width="0.65"/>
<line x1="464.5" y1="342" x2="466.5" y2="342" stroke="#202020" stroke-width="0.65"/>
<line x1="464.5" y1="350.5" x2="466.5" y2="350.5" stroke="#202020" stroke-width="0.65"/>
<line x1="477.5" y1="333.8" x2="477.5" y2="351.3" stroke="#202020" stroke-width="0.65"/>
<line x1="476.5" y1="333.8" x2="478.5" y2="333.8" stroke="#202020" stroke-width="0.65"/>
<line x1="476.5" y1="351.3" x2="478.5" y2="351.3" stroke="#202020" stroke-width="0.65"/>
<line x1="489.5" y1="333.8" x2="489.5" y2="347.5" stroke="#202020" stroke-width="0.65"/>
<line x1="488.5" y1="333.8" x2="490.5" y2="333.8" stroke="#202020" stroke-width="0.65"/>
<line x1="488.5" y1="347.5" x2="490.5" y2="347.5" stroke="#202020" stroke-width="0.65"/>
<text x="417.7" y="330.2" font-size="8" text-anchor="middle" fill="#111" font-weight="bold" stroke-width="0.1" letter-spacing="0.5">**</text>
<text x="429.65" y="336.3" font-size="8" text-anchor="middle" fill="#111" font-weight="bold" stroke-width="0.1" letter-spacing="0.5">***</text>
<rect x="451.8" y="290" width="7.5" height="7.5" fill="#050505"/>
<rect x="452.15" y="304.75" width="6.8" height="7.15" fill="#646464" stroke="#3e3e3e" stroke-width="0.7"/>
<text x="462.6" y="297.1" font-size="12" textLength="50.3" lengthAdjust="spacingAndGlyphs" fill="#111">w/ [Ca<tspan font-size="8" dy="-5.2">2+</tspan><tspan dy="5.2">]</tspan><tspan font-size="8" dy="1.9">e</tspan></text>
<text x="462.6" y="311.4" font-size="12" textLength="56.8" lengthAdjust="spacingAndGlyphs" fill="#111">w/o [Ca<tspan font-size="8" dy="-5.2">2+</tspan><tspan dy="5.2">]</tspan><tspan font-size="8" dy="1.9">e</tspan></text>
<text x="396.2" y="394.8" font-size="10.7" text-anchor="end" transform="rotate(-43.5 396.2 394.8)" fill="#111">Ctrl</text>
<text x="409.2" y="394.8" font-size="10.7" text-anchor="end" transform="rotate(-43.5 409.2 394.8)" fill="#111">ATP</text>
<text x="423.7" y="394.8" font-size="10.7" text-anchor="end" transform="rotate(-43.5 423.7 394.8)" fill="#111">ATP+PSB</text>
<text x="438.2" y="394.8" font-size="10.7" text-anchor="end" transform="rotate(-43.5 438.2 394.8)" fill="#111">ATP+BX430</text>
<text x="455.2" y="395.7" font-size="10.7" text-anchor="end" transform="rotate(-43.5 455.2 395.7)" fill="#111">Ctrl</text>
<text x="467.7" y="395.7" font-size="10.7" text-anchor="end" transform="rotate(-43.5 467.7 395.7)" fill="#111">ATP</text>
<text x="482" y="395.7" font-size="10.7" text-anchor="end" transform="rotate(-43.5 482 395.7)" fill="#111">ATP+PSB</text>
<text x="497" y="395.7" font-size="10.7" text-anchor="end" transform="rotate(-43.5 497 395.7)" fill="#111">ATP+BX430</text>
<text x="347.4" y="351.2" font-size="9.7" text-anchor="middle" textLength="92.1" lengthAdjust="spacingAndGlyphs" transform="rotate(-90 347.4 351.2)" fill="#222">% secreted huCXCL5</text>
<text x="359.6" y="349.3" font-size="9.7" text-anchor="middle" textLength="85.7" lengthAdjust="spacingAndGlyphs" transform="rotate(-90 359.6 349.3)" fill="#222">(normalised to ATP)</text>
</svg>
</body></html>
